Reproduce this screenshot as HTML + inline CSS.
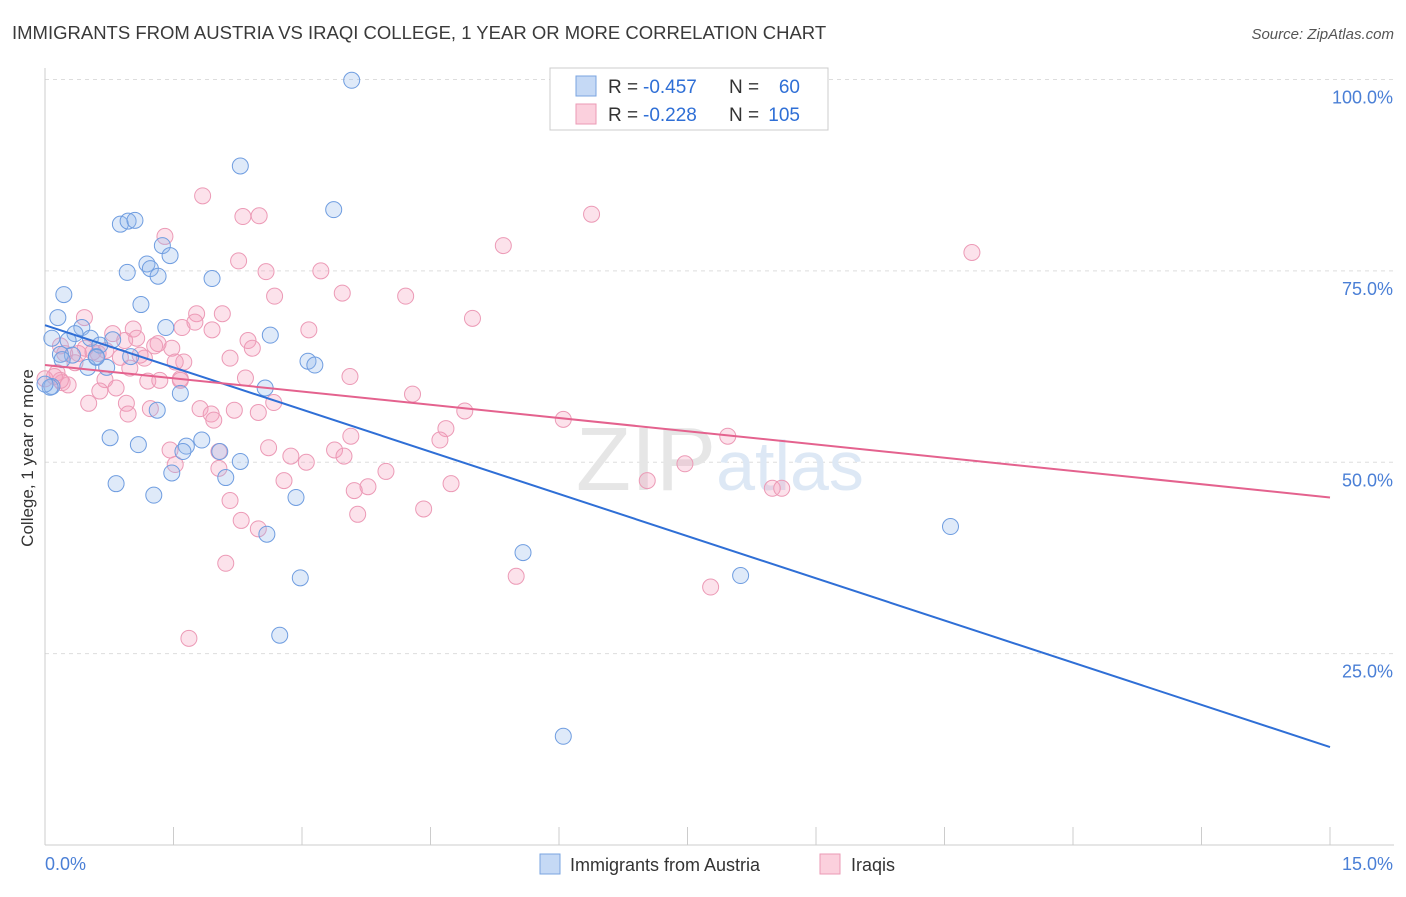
<!DOCTYPE html>
<html><head><meta charset="utf-8">
<style>
body{margin:0;background:#fff;font-family:"Liberation Sans",sans-serif;}
svg text{font-family:"Liberation Sans",sans-serif;}
</style></head>
<body>
<svg id="chart" width="1406" height="892" xmlns="http://www.w3.org/2000/svg">
<text x="12" y="39" font-size="18.5" fill="#3a3a3a">IMMIGRANTS FROM AUSTRIA VS IRAQI COLLEGE, 1 YEAR OR MORE CORRELATION CHART</text>
<text x="1394" y="39" font-size="15" fill="#555" text-anchor="end" font-style="italic">Source: ZipAtlas.com</text>
<g id="grid"></g>
<text x="720" y="490" font-size="90" fill="#e6e6e6" text-anchor="middle" font-family="Liberation Serif">ZIP<tspan fill="#dde8f5" font-family="Liberation Sans" font-size="70">atlas</tspan></text>
<g id="pts"></g>
<g id="lines"></g>
<text transform="translate(33,458) rotate(-90)" font-size="17" fill="#333" text-anchor="middle">College, 1 year or more</text>
<g>
<rect x="550" y="68" width="278" height="62" fill="#fff" stroke="#ccc"/>
<rect x="576" y="76" width="20" height="20" fill="#c5d9f5" stroke="#7aa4e0"/>
<rect x="576" y="104" width="20" height="20" fill="#fbd0dd" stroke="#eb9ab5"/>
<text x="608" y="93" font-size="19" fill="#333">R =</text>
<text x="643" y="93" font-size="19" fill="#2f6fd6">-0.457</text>
<text x="729" y="93" font-size="19" fill="#333">N =</text>
<text x="800" y="93" font-size="19" fill="#2f6fd6" text-anchor="end">60</text>
<text x="608" y="121" font-size="19" fill="#333">R =</text>
<text x="643" y="121" font-size="19" fill="#2f6fd6">-0.228</text>
<text x="729" y="121" font-size="19" fill="#333">N =</text>
<text x="800" y="121" font-size="19" fill="#2f6fd6" text-anchor="end">105</text>
</g>
<g>
<rect x="540" y="854" width="20" height="20" fill="#c5d9f5" stroke="#7aa4e0"/>
<text x="570" y="871" font-size="18" fill="#333">Immigrants from Austria</text>
<rect x="820" y="854" width="20" height="20" fill="#fbd0dd" stroke="#eb9ab5"/>
<text x="851" y="871" font-size="18" fill="#333">Iraqis</text>
</g>
</svg>
<script>
const xTicks=[0,1.5,3,4.5,6,7.5,9,10.5,12,13.5,15];
const yTicks=[25,50,75,100];
const yTickLabels=["25.0%","50.0%","75.0%","100.0%"];
const xTickLabels=["0.0%","15.0%"];
const austriaX=[3.58,2.28,3.37,0.88,0.97,1.05,1.37,1.19,1.46,0.96,1.23,1.32,1.95,0.22,1.12,0.15,0.43,1.41,0.35,0.08,0.27,0.53,0.79,2.63,0.64,0.32,0.60,1.00,0.18,0.50,0.72,3.07,3.15,2.57,1.58,1.31,0.76,1.09,1.65,1.83,1.61,2.04,2.28,1.48,2.11,0.83,1.27,2.93,2.59,2.98,5.58,2.74,8.12,10.57,6.05,0.08,0.06,0.0,0.60,0.20];
const austriaY=[99.9,88.7,83.0,81.1,81.5,81.6,78.3,75.9,77.0,74.8,75.3,74.3,74.0,71.9,70.6,68.9,67.6,67.6,66.8,66.2,65.9,66.2,66.0,66.6,65.3,64.0,63.8,63.8,64.1,62.4,62.4,63.2,62.7,59.7,59.0,56.8,53.2,52.3,52.1,52.9,51.4,51.4,50.1,48.6,48.0,47.2,45.7,45.4,40.6,34.9,38.2,27.4,35.2,41.6,14.2,59.9,59.8,60.2,63.7,63.4];
const iraqiX=[1.84,2.31,2.50,6.38,1.40,5.35,10.82,2.26,2.58,3.22,2.68,3.47,4.21,4.99,0.46,1.77,2.07,1.60,1.95,1.03,3.08,0.79,2.37,1.32,2.42,1.48,0.47,0.71,0.23,0.39,0.62,0.88,1.16,1.62,0.99,1.52,0.14,1.20,3.56,0.70,1.34,1.58,0.0,0.20,0.27,0.83,0.64,4.29,0.18,0.11,0.95,2.67,0.51,1.23,1.81,1.94,2.21,2.49,0.97,1.97,4.90,6.05,4.68,3.57,4.61,7.97,1.46,2.03,2.61,3.38,3.49,2.87,3.05,7.47,1.52,2.03,3.98,2.79,3.77,4.74,3.61,8.49,8.60,7.03,2.16,4.42,3.65,2.29,2.49,2.11,5.50,7.77,1.68,1.28,1.07,0.56,1.11,0.35,2.16,1.75,0.18,1.58,2.34,0.93];
const iraqiY=[84.8,82.1,82.2,82.4,79.5,78.3,77.4,76.3,74.9,75.0,71.7,72.1,71.7,68.8,68.9,69.4,69.4,67.6,67.3,67.4,67.3,66.8,65.9,65.5,64.9,64.9,64.9,64.6,64.2,64.2,64.2,63.7,63.6,63.1,62.3,63.1,61.7,60.6,61.2,60.8,60.7,60.9,60.9,60.4,60.1,59.7,59.3,58.9,60.7,61.2,57.7,57.8,57.7,57.0,57.0,56.3,56.8,56.5,56.3,55.5,56.7,55.6,54.4,53.4,52.9,53.4,51.6,51.4,51.9,51.6,50.8,50.8,50.0,49.8,49.7,49.2,48.8,47.6,46.8,47.2,46.3,46.6,46.6,47.6,45.0,43.9,43.2,42.4,41.3,36.8,35.1,33.7,27.0,65.2,66.2,64.4,64.0,63.0,63.6,68.3,65.2,60.7,61.0,65.9,59.8];
const austriaLine=[67.9,12.8];
const iraqiLine=[62.7,45.4];
const NS="http://www.w3.org/2000/svg";
const X0=45,X1=1330,YB=845,YT=79.5;
const sx=v=>X0+(v/15)*(X1-X0);
const sy=v=>YB-(v/100)*(YB-YT);
function mk(t,a,p){const e=document.createElementNS(NS,t);for(const k in a)e.setAttribute(k,a[k]);p.appendChild(e);return e;}
const grid=document.getElementById('grid');
yTicks.forEach((t,i)=>{
 const l=mk('line',{x1:X0,x2:1394,y1:sy(t),y2:sy(t),stroke:'#ddd','stroke-dasharray':'4,4'},grid);
 
 
 const tx=mk('text',{x:1393,y:sy(t)+24,'font-size':18,fill:'#4a7fd6','text-anchor':'end'},grid);
 tx.textContent=yTickLabels[i];
 
 
});
const ax=mk('line',{x1:X0,x2:X0,y1:68,y2:YB,stroke:'#ccc'},grid);


const bx=mk('line',{x1:X0,x2:1394,y1:YB,y2:YB,stroke:'#ccc'},grid);


xTicks.forEach(t=>{
 const l=mk('line',{x1:sx(t),x2:sx(t),y1:YB,y2:YB-18,stroke:'#ccc'},grid);
 
 
});
[[0,'start',45],[15,'end',1393]].forEach((d,i)=>{
 const tx=mk('text',{x:d[2],y:870,'font-size':18,fill:'#4a7fd6','text-anchor':d[1]},grid);
 tx.textContent=xTickLabels[i];
 
 
});
const pts=document.getElementById('pts');
iraqiX.forEach((x,i)=>{
 const c=mk('circle',{cx:sx(x),cy:sy(iraqiY[i]),r:8,fill:'rgba(245,160,190,0.3)',stroke:'#ec9ab6','stroke-width':1},pts);
 
 
});
austriaX.forEach((x,i)=>{
 const c=mk('circle',{cx:sx(x),cy:sy(austriaY[i]),r:8,fill:'rgba(150,185,235,0.3)',stroke:'#6f9de0','stroke-width':1},pts);
 
 
});
const lines=document.getElementById('lines');
const la=mk('line',{x1:sx(0),y1:sy(austriaLine[0]),x2:sx(15),y2:sy(austriaLine[1]),stroke:'#2f6fd6','stroke-width':2},lines);


const li=mk('line',{x1:sx(0),y1:sy(iraqiLine[0]),x2:sx(15),y2:sy(iraqiLine[1]),stroke:'#e4628e','stroke-width':2},lines);


</script>
</body></html>
